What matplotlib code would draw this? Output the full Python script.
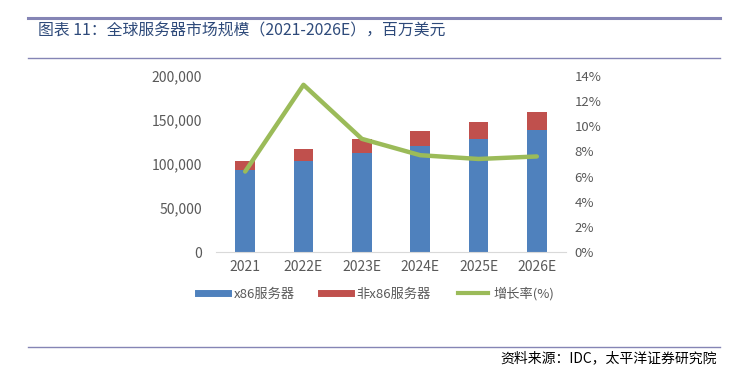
import matplotlib
matplotlib.use("Agg")
import matplotlib.pyplot as plt
from matplotlib.lines import Line2D
from matplotlib.ticker import FuncFormatter

plt.rcParams['font.family'] = ['Noto Sans CJK SC', 'DejaVu Sans']

# data (millions USD)
years = ["2021", "2022E", "2023E", "2024E", "2025E", "2026E"]
x86 = [93200, 103400, 112100, 120800, 128800, 138600]
non_x86 = [10500, 14000, 15900, 17100, 19300, 20900]
growth = [6.4, 13.3, 9.0, 7.7, 7.4, 7.6]

blue = "#4F81BD"
red = "#C0504D"
green = "#9BBB59"
grey = "#595959"
frame = "#8585B5"

fig = plt.figure(figsize=(7.4, 3.72), dpi=100)

# header / footer lines and text
fig.add_artist(Line2D([28/740, 720/740], [1-18/372, 1-18/372], color=frame, lw=2.2))
fig.add_artist(Line2D([28/740, 720/740], [1-58/372, 1-58/372], color=frame, lw=1.0))
fig.add_artist(Line2D([28/740, 720/740], [1-347/372, 1-347/372], color=frame, lw=1.0))
fig.text(38/740, 1-31/372, "图表 11：全球服务器市场规模（2021-2026E），百万美元",
         fontsize=11.4, color="#2E4A7A", va="center", ha="left")
fig.text(717/740, 1-358/372, "资料来源：IDC，太平洋证券研究院",
         fontsize=10, color="black", va="center", ha="right", style="italic")

ax = fig.add_axes([216/740, 1-252/372, 350/740, 176/372])
pos = list(range(len(years)))
ax.bar(pos, x86, width=0.34, color=blue)
ax.bar(pos, non_x86, width=0.34, bottom=x86, color=red)
ax.set_xlim(-0.5, len(years) - 0.5)
ax.set_ylim(0, 200000)
ax.set_yticks([0, 50000, 100000, 150000, 200000])
ax.yaxis.set_major_formatter(FuncFormatter(lambda v, p: f"{int(v):,}"))
ax.set_xticks(pos)
ax.set_xticklabels(years)
for s in ["top", "right", "left"]:
    ax.spines[s].set_visible(False)
ax.spines["bottom"].set_color("#D9D9D9")
ax.tick_params(axis="both", length=0, labelsize=10, colors=grey)
ax.tick_params(axis="y", pad=10)
ax.tick_params(axis="x", pad=6)

ax2 = ax.twinx()
ax2.plot(pos, growth, color=green, lw=3.2, solid_capstyle="round")
ax2.set_ylim(0, 14)
ax2.set_yticks(range(0, 15, 2))
ax2.yaxis.set_major_formatter(FuncFormatter(lambda v, p: f"{int(v)}%"))
for s in ["top", "right", "left", "bottom"]:
    ax2.spines[s].set_visible(False)
ax2.tick_params(axis="y", length=0, labelsize=9.5, colors=grey, pad=6)

handles = [Line2D([], [], color=blue, lw=5),
           Line2D([], [], color=red, lw=5),
           Line2D([], [], color=green, lw=3)]
fig.legend(handles, ["x86服务器", "非x86服务器", "增长率(%)"], loc="center",
           bbox_to_anchor=(376/740, 1-294/372), ncol=3, frameon=False,
           fontsize=9.5, labelcolor=grey, handlelength=2.3, handletextpad=0.4,
           columnspacing=2.0)

fig.savefig("out.png", dpi=100)
